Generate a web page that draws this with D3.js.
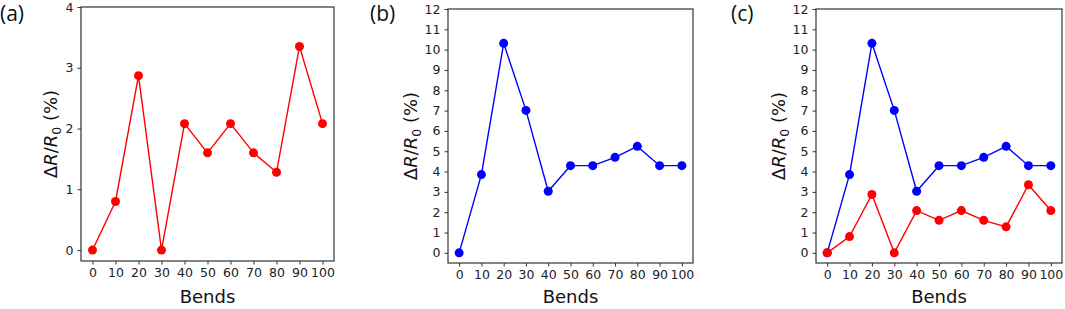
<!DOCTYPE html>
<html>
<head>
<meta charset="utf-8">
<script src="https://cdn.jsdelivr.net/npm/d3@7"></script>
<style>
  body { margin: 0; background: #fff; }
  svg { display: block; }
</style>
</head>
<body>
<svg id="chart" width="1065" height="309"></svg>
<script>
var width = 1065,
    height = 309;

// data
var bends = [0, 10, 20, 30, 40, 50, 60, 70, 80, 90, 100];
var redVals = [0, 0.8, 2.87, 0, 2.08, 1.6, 2.08, 1.6, 1.28, 3.35, 2.08];
var blueVals = [0, 3.85, 10.31, 7.01, 3.03, 4.29, 4.29, 4.70, 5.24, 4.29, 4.29];
var yTicksA = [0, 1, 2, 3, 4];
var yTicksBC = [0, 1, 2, 3, 4, 5, 6, 7, 8, 9, 10, 11, 12];
var panelLabels = ["(a)", "(b)", "(c)"];

var svg = d3.select("#chart");

var panels = [
  {left: 81, right: 334, top: 7, bottom: 261, ymin: -0.18, ymax: 4, yticks: yTicksA,
   series: [{vals: redVals, color: "#ff0000"}], label: panelLabels[0], lx: 0, ylx: 50},
  {left: 448, right: 693, top: 9, bottom: 263, ymin: -0.5, ymax: 12, yticks: yTicksBC,
   series: [{vals: blueVals, color: "#0000ff"}], label: panelLabels[1], lx: 370, ylx: 410},
  {left: 816, right: 1062, top: 9, bottom: 263, ymin: -0.5, ymax: 12, yticks: yTicksBC,
   series: [{vals: blueVals, color: "#0000ff"}, {vals: redVals, color: "#ff0000"}], label: panelLabels[2], lx: 731, ylx: 778}
];

panels.forEach(function(p) {
  var x = d3.scaleLinear().domain([-5, 105]).range([p.left, p.right]);
  var y = d3.scaleLinear().domain([p.ymin, p.ymax]).range([p.bottom, p.top]);
  var g = svg.append("g");

  // frame
  g.append("rect")
    .attr("x", p.left).attr("y", p.top)
    .attr("width", p.right - p.left).attr("height", p.bottom - p.top)
    .attr("fill", "none").attr("stroke", "#333").attr("stroke-width", 1.2);

  var xAxis = g.append("g")
    .attr("transform", "translate(0," + p.bottom + ")")
    .call(d3.axisBottom(x).tickValues(bends).tickSize(3.5).tickPadding(4));
  var yAxis = g.append("g")
    .attr("transform", "translate(" + p.left + ",0)")
    .call(d3.axisLeft(y).tickValues(p.yticks).tickSize(3.5).tickPadding(4).tickFormat(d3.format("d")));

  [xAxis, yAxis].forEach(function(a) {
    a.select(".domain").remove();
    a.selectAll("line").attr("stroke", "#333");
    a.selectAll("text")
      .attr("fill", "#222")
      .style("font-family", "DejaVu Sans")
      .style("font-size", "12.5px");
  });

  p.series.forEach(function(s) {
    var pts = bends.map(function(b, i) { return [b, s.vals[i]]; });
    g.append("path")
      .datum(pts)
      .attr("fill", "none")
      .attr("stroke", s.color)
      .attr("stroke-width", 1.4)
      .attr("d", d3.line().x(function(d) { return x(d[0]); }).y(function(d) { return y(d[1]); }));
    g.selectAll(null)
      .data(pts)
      .enter().append("circle")
      .attr("cx", function(d) { return x(d[0]); })
      .attr("cy", function(d) { return y(d[1]); })
      .attr("r", 4.5)
      .attr("fill", s.color);
  });

  // x label
  g.append("text")
    .attr("x", (p.left + p.right) / 2)
    .attr("y", 303)
    .attr("text-anchor", "middle")
    .style("font-family", "DejaVu Sans")
    .style("font-size", "18px")
    .attr("fill", "#111")
    .text("Bends");

  // y label
  var yl = g.append("text")
    .attr("transform", "translate(" + (p.ylx + 7) + "," + ((p.top + p.bottom) / 2) + ") rotate(-90)")
    .attr("text-anchor", "middle")
    .style("font-family", "DejaVu Sans")
    .style("font-size", "18px")
    .attr("fill", "#111");
  yl.append("tspan").text("Δ");
  yl.append("tspan").style("font-style", "italic").text("R");
  yl.append("tspan").text("/");
  yl.append("tspan").style("font-style", "italic").text("R");
  yl.append("tspan").attr("dy", 4).style("font-size", "12.5px").text("0");
  yl.append("tspan").attr("dy", -4).text(" (%)");

  // panel letter
  g.append("text")
    .attr("x", p.lx)
    .attr("y", 21)
    .style("font-family", "Open Sans")
    .style("font-size", "21px")
    .attr("fill", "#111")
    .text(p.label);
});
</script>
</body>
</html>
